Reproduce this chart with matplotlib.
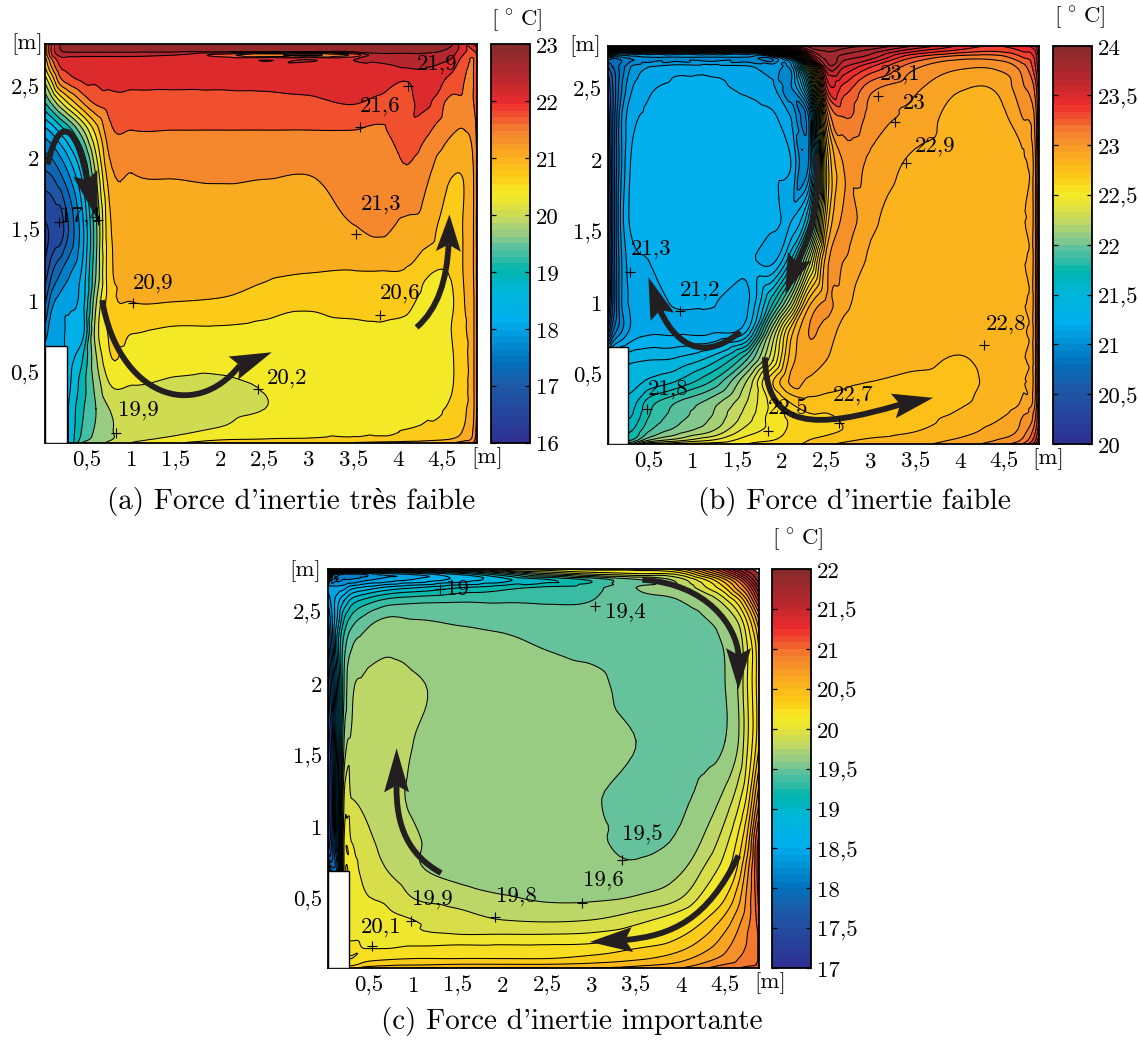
import numpy as np
import matplotlib
matplotlib.use("Agg")
import matplotlib.pyplot as plt
from matplotlib.colors import LinearSegmentedColormap, ListedColormap, Normalize
from matplotlib.cm import ScalarMappable
from matplotlib.path import Path
from matplotlib.patches import PathPatch, Polygon, Rectangle
from matplotlib.transforms import ScaledTranslation
import matplotlib.tri as mtri

plt.rcParams['font.family'] = ['cmr10', 'Liberation Serif']
plt.rcParams['mathtext.fontset'] = 'cm'
plt.rcParams['axes.unicode_minus'] = False

W, H = 1138, 1042
FS_TICK = 16.5
FS_CAP = 21

# ---------------------------------------------------------------- data
X_A = [.03, .1, .2, .3, .45, .6, .75, 1, 1.5, 2, 2.5, 3, 3.5, 3.8, 4.1, 4.3, 4.6, 4.75, 4.85, 4.9]
Y_A = [.015, .04, .1, .25, .4, .6, .8, 1, 1.2, 1.5, 1.9, 2.2, 2.4, 2.55, 2.65, 2.7, 2.725, 2.75, 2.8]
T_A = [
 [18, 18, 18, 18.5, 19.5, 19.7, 19.9, 20.2, 20.5, 20.7, 20.8, 20.85, 20.9, 20.95, 21, 21.05, 21.2, 21.4, 21.6, 22.3],
 [18, 18, 18, 18.5, 19.3, 19.6, 19.8, 20.05, 20.3, 20.5, 20.55, 20.58, 20.62, 20.64, 20.7, 20.75, 20.9, 21.1, 21.4, 22],
 [18, 18, 18, 18.5, 19.2, 19.55, 19.8, 20.0, 20.12, 20.25, 20.42, 20.52, 20.52, 20.53, 20.56, 20.6, 20.75, 20.95, 21.3, 21.9],
 [18, 18, 18, 18.5, 19.1, 19.5, 19.85, 20.0, 20.05, 20.1, 20.2, 20.4, 20.45, 20.47, 20.5, 20.53, 20.6, 20.85, 21.2, 21.8],
 [18, 18, 18, 18.4, 19.0, 19.6, 20.15, 20.18, 20.12, 20.1, 20.22, 20.4, 20.45, 20.45, 20.45, 20.47, 20.53, 20.8, 21.2, 21.8],
 [18, 18, 18, 18.3, 18.8, 19.8, 20.5, 20.4, 20.35, 20.35, 20.38, 20.42, 20.45, 20.45, 20.45, 20.47, 20.52, 20.8, 21.2, 21.8],
 [17.5, 18, 18, 18.2, 18.3, 20.0, 20.6, 20.58, 20.5, 20.5, 20.45, 20.45, 20.48, 20.5, 20.5, 20.5, 20.55, 20.85, 21.2, 21.8],
 [17.0, 17.6, 17.9, 18.0, 18.3, 19.8, 20.72, 20.9, 20.9, 20.87, 20.76, 20.62, 20.69, 20.72, 20.62, 20.48, 20.5, 20.9, 21.2, 21.8],
 [16.5, 17.0, 17.4, 17.7, 18.2, 19.5, 20.75, 21.0, 21.0, 21.0, 20.95, 20.9, 20.88, 20.88, 20.85, 20.6, 20.58, 20.95, 21.25, 21.8],
 [16.3, 16.4, 16.5, 17.1, 18.0, 19.4, 20.8, 21.05, 21.1, 21.1, 21.1, 21.1, 21.22, 21.3, 21.15, 21.1, 20.7, 20.95, 21.25, 21.8],
 [17, 17.1, 17.4, 17.8, 18.6, 19.9, 21.1, 21.25, 21.28, 21.3, 21.28, 21.26, 21.45, 21.5, 21.55, 21.35, 20.93, 20.95, 21.25, 21.8],
 [18.0, 18.2, 18.6, 19, 19.8, 20.7, 21.5, 21.6, 21.6, 21.6, 21.6, 21.6, 21.6, 21.55, 21.85, 21.7, 21.3, 21.25, 21.4, 21.8],
 [19.2, 19.6, 20.2, 20.7, 21.3, 21.7, 21.8, 21.82, 21.82, 21.82, 21.85, 21.9, 21.98, 21.88, 21.85, 22.05, 21.5, 21.55, 21.6, 21.9],
 [20, 20.6, 21.5, 21.8, 22, 22, 22.05, 22.05, 22.05, 22.05, 22.05, 22.05, 22.05, 22.1, 21.97, 22.15, 21.85, 21.6, 21.6, 22],
 [20.6, 21.3, 22.0, 22.1, 22.12, 22.12, 22.12, 22.12, 22.12, 22.12, 22.12, 22.12, 22.12, 22.2, 22.35, 22.35, 22.1, 21.7, 21.6, 22],
 [20.8, 21.6, 22.2, 22.22, 22.2, 22.2, 22.2, 22.2, 22.2, 22.2, 22.2, 22.2, 22.25, 22.5, 22.5, 22.5, 22.3, 21.8, 21.6, 22],
 [21, 21.9, 22.4, 22.4, 22.4, 22.4, 22.4, 22.4, 22.3, 21.8, 21.3, 21.2, 21.7, 22.6, 22.6, 22.6, 22.4, 21.9, 21.7, 22.1],
 [21, 22, 22.6, 22.7, 22.7, 22.7, 22.7, 22.7, 22.7, 22.7, 22.7, 22.7, 22.7, 22.7, 22.7, 22.7, 22.5, 22, 21.9, 22.2],
 [21, 22, 22.7, 22.85, 22.85, 22.85, 22.85, 22.85, 22.85, 22.85, 22.85, 22.85, 22.85, 22.85, 22.85, 22.85, 22.7, 22, 22.3, 22.5],
]

X_B = [.04, .1, .2, .3, .5, .8, 1.2, 1.6, 1.9, 2.1, 2.3, 2.5, 2.7, 3, 3.5, 4, 4.4, 4.7, 4.85, 4.91]
Y_B = [.014, .04, .1, .2, .3, .45, .6, .8, 1, 1.3, 1.6, 2, 2.3, 2.5, 2.65, 2.72, 2.76, 2.8]
T_B = [
 [22, 22, 22, 22.0, 22.4, 22.5, 22.55, 22.6, 22.65, 22.68, 22.72, 22.78, 22.82, 22.85, 22.88, 22.95, 23.05, 23.2, 23.5, 23.8],
 [21.8, 21.8, 21.8, 21.8, 22.1, 22.25, 22.4, 22.55, 22.6, 22.65, 22.7, 22.74, 22.78, 22.82, 22.86, 22.92, 23.0, 23.12, 23.4, 23.7],
 [21.7, 21.7, 21.7, 21.7, 21.9, 22.05, 22.2, 22.45, 22.55, 22.62, 22.66, 22.68, 22.71, 22.75, 22.8, 22.86, 22.95, 23.05, 23.3, 23.6],
 [21.6, 21.6, 21.6, 21.6, 21.8, 21.95, 22.1, 22.35, 22.55, 22.62, 22.68, 22.68, 22.72, 22.75, 22.78, 22.82, 22.88, 23.0, 23.2, 23.6],
 [21.55, 21.55, 21.55, 21.55, 21.75, 21.9, 22.05, 22.3, 22.55, 22.7, 22.76, 22.76, 22.76, 22.74, 22.76, 22.79, 22.84, 22.92, 23.12, 23.6],
 [21.45, 21.45, 21.45, 21.45, 21.52, 21.6, 21.8, 22.2, 22.7, 22.92, 22.88, 22.84, 22.82, 22.8, 22.77, 22.77, 22.83, 22.88, 23.1, 23.6],
 [21.38, 21.38, 21.38, 21.38, 21.4, 21.42, 21.55, 21.9, 22.4, 22.85, 22.95, 22.9, 22.86, 22.84, 22.83, 22.79, 22.84, 22.88, 23.1, 23.6],
 [20.5, 20.8, 21.0, 21.12, 21.18, 21.18, 21.18, 21.3, 22.2, 22.75, 23.0, 22.95, 22.87, 22.85, 22.85, 22.85, 22.85, 22.88, 23.1, 23.6],
 [20.2, 20.6, 21.0, 21.12, 21.15, 21.21, 21.21, 21.17, 21.7, 22.2, 22.85, 23.02, 22.92, 22.87, 22.85, 22.85, 22.85, 22.88, 23.1, 23.6],
 [20.2, 20.6, 21.0, 21.15, 21.2, 21.25, 21.25, 21.23, 21.17, 21.5, 22.2, 22.95, 23.0, 22.88, 22.85, 22.85, 22.85, 22.88, 23.1, 23.6],
 [20.2, 20.6, 21.05, 21.22, 21.25, 21.25, 21.25, 21.25, 21.25, 21.18, 21.5, 22.7, 23.02, 22.92, 22.85, 22.85, 22.85, 22.88, 23.1, 23.6],
 [20.2, 20.6, 21.0, 21.2, 21.25, 21.25, 21.25, 21.25, 21.25, 21.2, 21.0, 22.6, 23.02, 22.98, 22.88, 22.85, 22.85, 22.88, 23.1, 23.6],
 [20.3, 20.6, 21.0, 21.15, 21.22, 21.25, 21.25, 21.25, 21.22, 21.1, 21.0, 22.9, 23.2, 23.06, 22.97, 22.85, 22.85, 23.0, 23.15, 23.6],
 [20.4, 20.6, 20.9, 21.08, 21.18, 21.22, 21.22, 21.18, 21.12, 20.98, 21.6, 23.35, 23.35, 23.13, 23.02, 22.91, 22.91, 23.08, 23.25, 23.6],
 [20.6, 20.7, 20.85, 21.0, 21.1, 21.15, 21.15, 21.12, 21.08, 21.05, 22.2, 23.7, 23.6, 23.4, 23.12, 23.02, 23.02, 23.15, 23.4, 23.7],
 [21, 20.9, 20.9, 20.95, 21.0, 21.0, 21.0, 21.0, 21.0, 21.5, 23.3, 23.85, 23.75, 23.65, 23.3, 23.15, 23.15, 23.3, 23.45, 23.75],
 [22, 21.8, 21.5, 21.5, 21.5, 21.5, 21.5, 21.5, 22, 23, 23.7, 23.9, 23.85, 23.75, 23.5, 23.35, 23.3, 23.4, 23.5, 23.8],
 [23, 23.5, 23.5, 23.5, 23.5, 23.5, 23.5, 23.5, 23.6, 23.8, 23.95, 23.95, 23.95, 23.9, 23.7, 23.5, 23.4, 23.5, 23.6, 23.85],
]

X_C = [.035, .08, .15, .22, .3, .45, .7, 1, 1.5, 2, 2.5, 3, 3.5, 4, 4.3, 4.5, 4.65, 4.75, 4.85, 4.905]
Y_C = [.014, .04, .08, .15, .25, .35, .5, .7, .9, 1.2, 1.6, 2, 2.3, 2.45, 2.58, 2.67, 2.73, 2.77, 2.8]
T_C = [
 [20.4, 20.4, 20.4, 20.4, 20.4, 20.5, 20.55, 20.6, 20.6, 20.6, 20.6, 20.6, 20.65, 20.75, 20.9, 21.0, 21.05, 21.1, 21.15, 21.3],
 [20.25, 20.25, 20.25, 20.25, 20.25, 20.35, 20.4, 20.42, 20.45, 20.45, 20.45, 20.48, 20.55, 20.65, 20.8, 20.9, 20.95, 21.0, 21.05, 21.2],
 [20.15, 20.15, 20.15, 20.15, 20.15, 20.25, 20.28, 20.3, 20.3, 20.3, 20.3, 20.35, 20.42, 20.55, 20.7, 20.8, 20.9, 20.95, 21.0, 21.2],
 [20.2, 20.2, 20.2, 20.2, 20.2, 20.15, 20.15, 20.18, 20.2, 20.2, 20.2, 20.22, 20.3, 20.42, 20.58, 20.72, 20.85, 20.92, 21.0, 21.2],
 [20.1, 20.1, 20.1, 20.1, 20.1, 20.1, 20.05, 20.02, 20.0, 20.0, 20.0, 20.02, 20.1, 20.27, 20.45, 20.62, 20.78, 20.9, 21.0, 21.2],
 [20.1, 20.1, 20.1, 20.1, 20.1, 20.05, 20.02, 20.0, 19.93, 19.85, 19.83, 19.85, 19.95, 20.12, 20.32, 20.5, 20.7, 20.85, 21.05, 21.3],
 [20.1, 20.1, 20.1, 20.1, 20.1, 20.02, 19.98, 19.85, 19.78, 19.72, 19.68, 19.68, 19.72, 19.85, 20.1, 20.3, 20.55, 20.8, 21.1, 21.4],
 [18.5, 18, 18.2, 20, 20.05, 19.95, 19.85, 19.73, 19.65, 19.6, 19.6, 19.58, 19.58, 19.68, 19.9, 20.1, 20.35, 20.7, 21.15, 21.5],
 [17.3, 17.6, 18.5, 20, 20, 19.9, 19.8, 19.72, 19.63, 19.6, 19.58, 19.57, 19.52, 19.58, 19.75, 19.95, 20.2, 20.5, 21.1, 21.4],
 [17.2, 17.5, 18.5, 19.85, 19.85, 19.82, 19.75, 19.68, 19.6, 19.6, 19.6, 19.56, 19.52, 19.52, 19.62, 19.75, 19.95, 20.2, 20.7, 21.0],
 [17.3, 17.6, 18.6, 19.55, 19.72, 19.75, 19.76, 19.7, 19.62, 19.62, 19.62, 19.6, 19.55, 19.5, 19.5, 19.55, 19.7, 19.98, 20.3, 20.55],
 [17.5, 17.9, 18.7, 19.4, 19.65, 19.72, 19.76, 19.72, 19.65, 19.62, 19.6, 19.58, 19.5, 19.48, 19.5, 19.55, 19.72, 20.0, 20.3, 20.55],
 [17.8, 18.2, 18.9, 19.3, 19.5, 19.6, 19.65, 19.62, 19.6, 19.57, 19.53, 19.5, 19.48, 19.47, 19.5, 19.58, 19.75, 20.02, 20.35, 20.65],
 [18, 18.3, 18.7, 19.1, 19.3, 19.45, 19.57, 19.55, 19.52, 19.5, 19.47, 19.45, 19.47, 19.5, 19.55, 19.68, 19.9, 20.2, 20.6, 20.9],
 [18.2, 18.4, 18.6, 18.8, 19, 19.15, 19.3, 19.35, 19.38, 19.38, 19.38, 19.4, 19.5, 19.55, 19.7, 19.95, 20.25, 20.6, 21.1, 21.4],
 [18.4, 18.4, 18.4, 18.45, 18.6, 18.7, 18.85, 18.95, 19.1, 19.2, 19.28, 19.35, 19.55, 19.7, 20, 20.3, 20.7, 21, 21.5, 21.8],
 [19, 18.3, 18.2, 18.2, 18.2, 18.3, 18.4, 18.5, 18.7, 18.9, 19.1, 19.3, 19.55, 19.8, 20.2, 20.6, 21, 21.4, 21.8, 21.9],
 [21, 19, 18.5, 18.3, 18.3, 18.3, 18.5, 18.6, 18.9, 19.3, 19.7, 19.9, 20, 20.1, 20.6, 21, 21.4, 21.7, 21.9, 22],
 [21.8, 21, 20.5, 20, 19.8, 19.6, 19.6, 19.6, 19.8, 20, 20.1, 20.2, 20.2, 20.4, 20.9, 21.3, 21.7, 21.9, 22, 22],
]

XT_VALUES = [.5, 1, 1.5, 2, 2.5, 3, 3.5, 4, 4.5]
XT_LABELS = ['0,5', '1', '1,5', '2', '2,5', '3', '3,5', '4', '4,5']
YT_VALUES = [.5, 1, 1.5, 2, 2.5]
YT_LABELS = ['0,5', '1', '1,5', '2', '2,5']

CB_TICKS_A = [16, 17, 18, 19, 20, 21, 22, 23]
CB_LABELS_A = ['16', '17', '18', '19', '20', '21', '22', '23']
CB_TICKS_B = [20, 20.5, 21, 21.5, 22, 22.5, 23, 23.5, 24]
CB_LABELS_B = ['20', '20,5', '21', '21,5', '22', '22,5', '23', '23,5', '24']
CB_TICKS_C = [17, 17.5, 18, 18.5, 19, 19.5, 20, 20.5, 21, 21.5, 22]
CB_LABELS_C = ['17', '17,5', '18', '18,5', '19', '19,5', '20', '20,5', '21', '21,5', '22']

# label text, cross position, label centre (m)
NOTES_A = [('21,9', 4.11, 2.505, 4.44, 2.66), ('21,6', 3.57, 2.22, 3.8, 2.365), ('21,3', 3.53, 1.47, 3.81, 1.68),
           ('20,9', 1.02, .99, 1.25, 1.13), ('20,6', 3.8, .905, 4.02, 1.06), ('20,2', 2.42, .386, 2.75, .463),
           ('19,9', .83, .084, 1.08, .24), ('17,4', .18, 1.56, .43, 1.6)]
EXTRA_CROSS_A = [(.62, 1.57)]
NOTES_B = [('23,1', 3.08, 2.447, 3.33, 2.6), ('23', 3.27, 2.265, 3.49, 2.4), ('22,9', 3.4, 1.98, 3.72, 2.1),
           ('22,8', 4.27, .708, 4.52, .855), ('22,7', 2.64, .16, 2.8, .358), ('22,5', 1.84, .105, 2.07, .26),
           ('21,8', .48, .26, .72, .4), ('21,2', .85, .947, 1.08, 1.09), ('21,3', .29, 1.22, .53, 1.375)]
NOTES_C = [('19', 1.3, 2.664, 1.49, 2.664), ('19,4', 3.04, 2.545, 3.38, 2.503), ('19,5', 3.34, .77, 3.57, .944),
           ('19,6', 2.89, .47, 3.13, .63), ('19,8', 1.92, .37, 2.15, .517), ('19,9', .97, .343, 1.21, .497),
           ('20,1', .53, .168, .635, .3)]

# flow arrows: four Bezier control points, then the head tip (m)
ARROWS_A = [[(.67, 1.01), (.85, .35), (1.7, .15), (2.22, .554), (2.58, .646)],
            [(4.21, .82), (4.45, .95), (4.55, 1.15), (4.57, 1.4), (4.58, 1.61)],
            [(.055, 1.96), (.2, 2.35), (.4, 2.2), (.5, 1.85), (.62, 1.57)]]
ARROWS_B = [[(1.53, .8), (1.2, .62), (.85, .65), (.63, .95), (.5, 1.18)],
            [(2.39, 2.04), (2.42, 1.7), (2.35, 1.5), (2.17, 1.28), (2.04, 1.07)],
            [(1.81, .62), (1.82, .1), (2.4, .12), (3.33, .29), (3.7, .337)]]
ARROWS_C = [[(1.31, .678), (.95, .8), (.8, 1.0), (.81, 1.29), (.81, 1.55)],
            [(3.57, 2.727), (4.3, 2.7), (4.63, 2.4), (4.65, 2.2), (4.65, 1.96)],
            [(4.65, .8), (4.3, .35), (3.9, .24), (3.38, .21), (2.98, .196)]]

OBST_W, OBST_H = .27, .69

# ---------------------------------------------------------------- colours
CM_POS = [0, .14, .2, .3, .38, .43, .495, .525, .555, .6, .63, .68, .72, .79, .857, .93, 1]
CM_COL = ['#2E3192', '#1C5BA8', '#0072BC', '#00AEEF', '#00B6D8', '#00B5AD', '#66C29C', '#96CC82', '#BAD66A',
          '#E6E338', '#F5EA25', '#FDC617', '#FBB01F', '#F37F2F', '#EE2B2D', '#B2272D', '#8B2A2A']
CMAP = LinearSegmentedColormap.from_list('temp', list(zip(CM_POS, CM_COL)), N=256)
CMAP_STEPS = ListedColormap(CMAP(np.linspace(0, 1, 60)))
ARROW_COL = '#231F20'

fig = plt.figure(figsize=(W / 100, H / 100), dpi=100)


def frac_box(x0, y0, x1, y1):
    return [x0 / W, 1 - y1 / H, (x1 - x0) / W, (y1 - y0) / H]


def ptext(x, y, s, size=FS_TICK, **kw):
    fig.text(x / W, 1 - y / H, s, fontsize=size, ha='center', va='center', **kw)


def flow_arrow(ax, spec):
    ctrl, tip = spec[:4], spec[4]
    ax.add_patch(PathPatch(Path(ctrl, [Path.MOVETO, Path.CURVE4, Path.CURVE4, Path.CURVE4]),
                           fc='none', ec=ARROW_COL, lw=4.2, capstyle='butt', zorder=6))
    end = ax.transData.transform(ctrl[3])
    t = ax.transData.transform(tip)
    d = (t - end) / np.linalg.norm(t - end)
    n = np.array([-d[1], d[0]])
    half = 12.5
    verts = [t, end - d * 7 + n * half, end, end - d * 7 - n * half]
    inv = ax.transData.inverted()
    ax.add_patch(Polygon(inv.transform(np.array(verts)), closed=True, fc=ARROW_COL, ec='none', zorder=6))


def panel(box, cbox, X, Y, T, vmin, vmax, step, xlim, ylim, notes, arrows, cb_ticks, cb_labels):
    ax = fig.add_axes(frac_box(*box))
    xx, yy = np.meshgrid(X, Y)
    z = np.array(T, dtype=float)
    tr = mtri.Triangulation(xx.ravel(), yy.ravel())
    interp = mtri.CubicTriInterpolator(tr, z.ravel(), kind='geom')
    rtr, rz = mtri.UniformTriRefiner(tr).refine_field(z.ravel(), triinterpolator=interp, subdiv=3)
    rz = np.clip(rz, vmin, vmax)
    levels = np.arange(vmin, vmax + step / 2, step)
    norm = Normalize(vmin, vmax)
    ax.tricontourf(rtr, rz, levels=levels, cmap=CMAP, norm=norm)
    ax.tricontour(rtr, rz, levels=levels, colors='k', linewidths=.75)
    ax.set_xlim(*xlim)
    ax.set_ylim(*ylim)
    ax.add_patch(Rectangle((xlim[0], ylim[0]), OBST_W - xlim[0], OBST_H - ylim[0], fc='white', ec='k', lw=1.0, zorder=4))
    ax.set_xticks(XT_VALUES, XT_LABELS, fontsize=FS_TICK)
    ax.set_yticks(YT_VALUES, YT_LABELS, fontsize=FS_TICK)
    ax.tick_params(length=0, pad=4)
    ax.tick_params(axis='x', pad=6)
    for s in ax.spines.values():
        s.set_linewidth(1.3)
    for label, cx, cy, tx, ty in notes:
        ax.plot([cx], [cy], marker='+', ms=7, mew=.8, color='k', zorder=7)
        ax.text(tx, ty, label, fontsize=FS_TICK, ha='center', va='center', zorder=7)
    for spec in arrows:
        flow_arrow(ax, spec)

    cax = fig.add_axes(frac_box(*cbox))
    cb = fig.colorbar(ScalarMappable(norm=norm, cmap=CMAP_STEPS), cax=cax)
    cb.set_ticks(cb_ticks, labels=cb_labels)
    cb.ax.tick_params(labelsize=FS_TICK, length=3.5, width=.9, direction='in', left=True, right=True, pad=4)
    cb.outline.set_linewidth(1.3)
    shift = ScaledTranslation(0, -0.8 / 72, fig.dpi_scale_trans)
    for t in cax.get_yticklabels():
        t.set_transform(t.get_transform() + shift)
    return ax


ax_a = panel((45.3, 44.3, 477, 442.5), (491, 44.3, 530, 442.5), X_A, Y_A, T_A, 16, 23, .35,
             (.03, 4.89), (.015, 2.8), NOTES_A, ARROWS_A, CB_TICKS_A, CB_LABELS_A)
for cx, cy in EXTRA_CROSS_A:
    ax_a.plot([cx], [cy], marker='+', ms=7, mew=.8, color='k', zorder=7)
panel((607.5, 45.7, 1039, 444), (1053, 45.7, 1092, 444), X_B, Y_B, T_B, 20, 24, .1,
      (.04, 4.89), (.014, 2.8), NOTES_B, ARROWS_B, CB_TICKS_B, CB_LABELS_B)
panel((327.6, 569.3, 758.5, 968), (772, 569.3, 811, 968), X_C, Y_C, T_C, 17, 22, .15,
      (.035, 4.875), (.014, 2.8), NOTES_C, ARROWS_C, CB_TICKS_C, CB_LABELS_C)

UNIT = '[$\\,^\\circ\\,$C]'
ptext(517, 21, UNIT)
ptext(1080, 18, UNIT)
ptext(798, 540, UNIT)
for x, y in [(27, 44), (585, 46), (305, 571), (487, 458), (1048, 459), (770, 983)]:
    ptext(x, y, '[m]')
ptext(291, 502, "(a) Force d'inertie très faible", FS_CAP)
ptext(854, 502, "(b) Force d'inertie faible", FS_CAP)
ptext(572, 1022, "(c) Force d'inertie importante", FS_CAP)

fig.savefig('out.png', dpi=100)
